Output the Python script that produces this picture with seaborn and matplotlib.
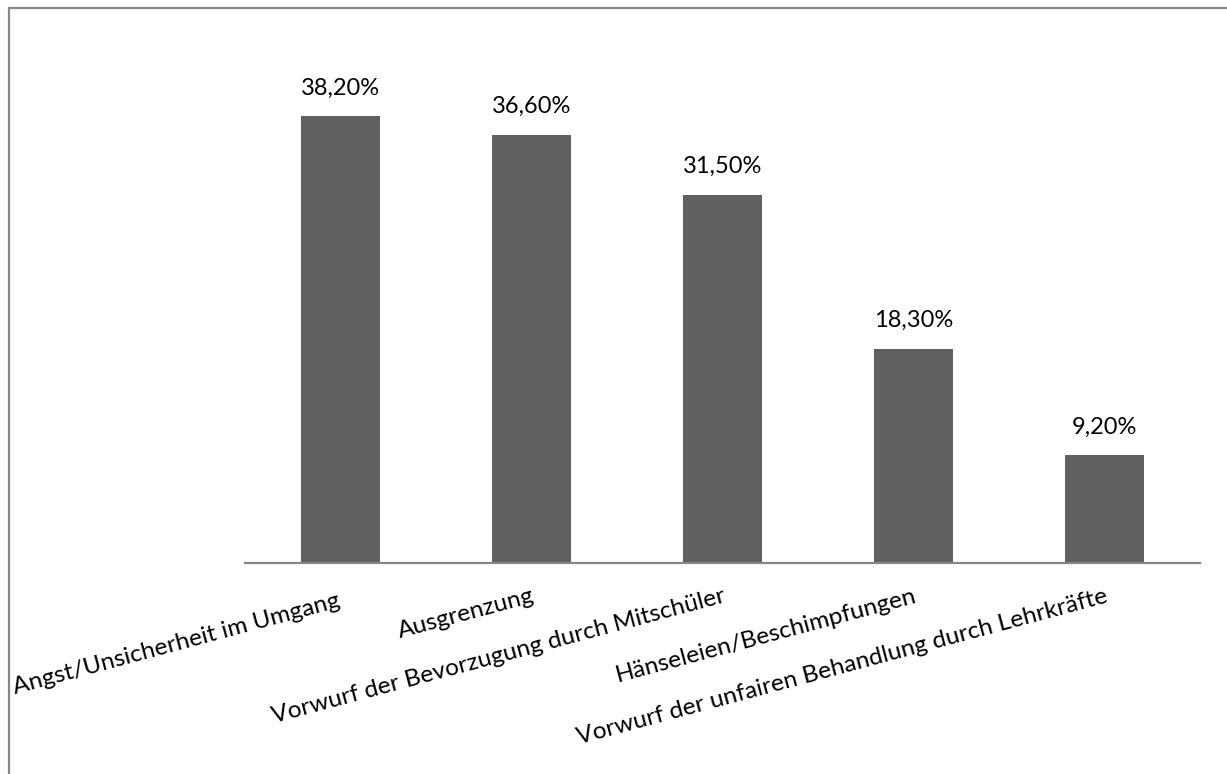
import matplotlib
matplotlib.use("Agg")
import matplotlib.pyplot as plt
from matplotlib.lines import Line2D
from matplotlib.transforms import ScaledTranslation
import seaborn as sns
import pandas as pd

categories = [
    "Angst/Unsicherheit im Umgang",
    "Ausgrenzung",
    "Vorwurf der Bevorzugung durch Mitschüler",
    "Hänseleien/Beschimpfungen",
    "Vorwurf der unfairen Behandlung durch Lehrkräfte",
]
values = [38.2, 36.6, 31.5, 18.3, 9.2]
value_labels = ["38,20%", "36,60%", "31,50%", "18,30%", "9,20%"]

sns.set_theme(style="white")
plt.rcParams["font.family"] = ["Lato", "DejaVu Sans"]

df = pd.DataFrame({"Kategorie": categories, "Anteil": values})

fig = plt.figure(figsize=(12.27, 7.74), dpi=100)
ax = fig.add_axes([245 / 1227, 1 - 563 / 774, (1200 - 245) / 1227, (563 - 37) / 774])

sns.barplot(data=df, x="Kategorie", y="Anteil", color="#606060",
            saturation=1, width=0.41, ax=ax)
for p in ax.patches:
    p.set_edgecolor("none")

ax.set_xlim(-0.5, 4.5)
ax.set_ylim(0, 45)
ax.set_xlabel("")
ax.set_ylabel("")
ax.set_yticks([])
for side in ["top", "right", "left"]:
    ax.spines[side].set_visible(False)
ax.spines["bottom"].set_color("#868686")
ax.spines["bottom"].set_linewidth(1.6)

ax.tick_params(axis="x", length=0, pad=16)
ax.set_xticks(range(len(categories)))
ax.set_xticklabels(categories, rotation=15, ha="right",
                   rotation_mode="anchor", fontsize=17.6, color="black")
first = ax.get_xticklabels()[0]
first.set_transform(first.get_transform() +
                    ScaledTranslation(-4 / 100, -5 / 100, fig.dpi_scale_trans))

for i, (v, lab) in enumerate(zip(values, value_labels)):
    ax.annotate(lab, xy=(i, v), xytext=(0, 13), textcoords="offset points",
                ha="center", va="bottom", fontsize=17, color="black")

# chart frame (top and left edges)
fig.add_artist(Line2D([8.5 / 1227, 1.0], [1 - 7.5 / 774, 1 - 7.5 / 774],
                      transform=fig.transFigure, color="#878787", linewidth=1.6))
fig.add_artist(Line2D([8.5 / 1227, 8.5 / 1227], [0.0, 1 - 7.5 / 774],
                      transform=fig.transFigure, color="#878787", linewidth=1.6))

fig.savefig("out.png", dpi=100, facecolor="white")
